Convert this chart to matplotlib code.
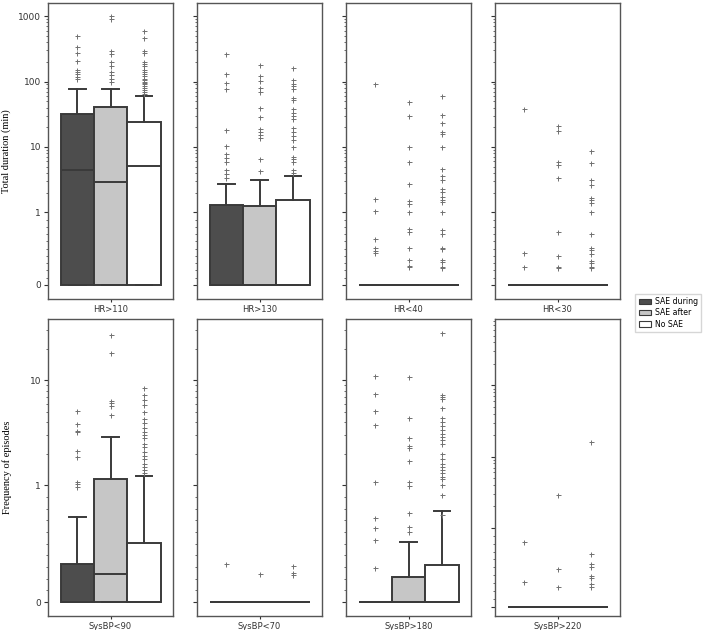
import numpy as np
import matplotlib.pyplot as plt
from matplotlib.patches import Patch

groups = ['SAE during', 'SAE after', 'No SAE']
colors = ['#4d4d4d', '#c6c6c6', '#ffffff']

# top row: total duration (min)
top_panels = ['HR>110', 'HR>130', 'HR<40', 'HR<30']
top_med = [[4.4, 2.95, 5.1], [0, 0, 0], [0, 0, 0], [0, 0, 0]]
top_q3 = [[31.6, 40.8, 24], [1.29, 1.25, 1.53], [0, 0, 0], [0, 0, 0]]
top_whishi = [[77.6, 77.6, 60], [2.68, 3.1, 3.63], [0, 0, 0], [0, 0, 0]]
top_fliers = [
    [[502, 337, 270, 208, 152, 141, 130, 116, 108],
     [1000, 900, 290, 260, 200, 170, 140, 125, 110, 100],
     [600, 470, 290, 270, 200, 185, 170, 150, 140, 130, 120, 110, 105, 100,
      95, 90, 85, 80, 75, 70, 65]],
    [[264, 130, 96, 76, 18, 10.5, 7.9, 6.8, 5.8, 4.5, 3.8, 3.4],
     [177, 123, 102, 79, 70, 39, 29, 19, 17, 15.2, 13.6, 6.5, 4.3],
     [160, 105, 93, 84, 76, 55, 52, 37.6, 33.4, 29.7, 26.3, 19.3, 17.1, 14.7,
      12.8, 10.1, 7.1, 6.5, 5.9, 4.4, 4.0]],
    [[90.6, 1.58, 1.04, 0.63, 0.505, 0.47, 0.44],
     [49, 29.5, 10.1, 5.9, 2.74, 1.49, 1.34, 1.0, 0.77, 0.73, 0.505, 0.34,
      0.26, 0.25],
     [60, 30.8, 22.8, 17.1, 15.6, 10.1, 4.55, 3.6, 3.13, 2.24, 2.07, 1.73,
      1.55, 1.44, 1.0, 0.757, 0.70, 0.505, 0.49, 0.34, 0.32, 0.25, 0.23]],
    [[37.6, 0.44, 0.25],
     [20.9, 17.5, 5.8, 5.2, 3.3, 0.73, 0.40, 0.25, 0.24],
     [8.7, 5.6, 3.13, 2.6, 1.67, 1.53, 1.38, 1.0, 0.70, 0.505, 0.48, 0.43,
      0.335, 0.307, 0.25, 0.24]],
]

# bottom row: frequency of episodes
bot_panels = ['SysBP<90', 'SysBP<70', 'SysBP>180', 'SysBP>220']
bot_med = [[0, 0.237, 0], [0, 0, 0], [0, 0, 0], [0, 0, 0]]
bot_q3 = [[0.326, 1.14, 0.503], [0, 0, 0], [0, 0.217, 0.317], [0, 0, 0]]
bot_whishi = [[0.726, 2.88, 1.23], [0, 0, 0], [0, 0.512, 0.78], [0, 0, 0]]
bot_fliers = [
    [[5.1, 3.86, 3.32, 3.2, 2.14, 1.85, 1.07, 1.03, 0.983],
     [27, 18.4, 6.4, 6.05, 5.7, 4.7],
     [8.4, 7.2, 6.5, 5.8, 5.0, 4.3, 3.9, 3.5, 3.2, 3.0, 2.8, 2.5, 2.3, 2.1,
      1.9, 1.8, 1.6, 1.5, 1.4, 1.3]],
    [[0.326], [0.237], [0.311, 0.25, 0.235]],
    [[11, 7.4, 5.1, 3.75, 1.07, 0.72, 0.632, 0.53, 0.294],
     [10.8, 4.35, 2.8, 2.37, 2.28, 1.72, 1.08, 0.995, 0.76, 0.645, 0.603],
     [28, 7.3, 7.0, 6.7, 5.4, 4.35, 4.0, 3.7, 3.4, 3.1, 2.9, 2.7, 2.5, 2.0,
      1.8, 1.6, 1.5, 1.4, 1.3, 1.2, 1.15, 1.0, 0.92, 0.75]],
    [[0.82, 0.321],
     [2.93, 0.478, 0.25],
     [16.2, 0.672, 0.545, 0.51, 0.393, 0.364, 0.29, 0.257]],
]

edge = '#3a3a3a'
minor = [0.1 * i for i in range(1, 10)] + [m * 10 ** k for k in range(0, 4) for m in range(2, 10)]

fig = plt.figure(figsize=(7.09, 6.30), dpi=100)
lefts = [48, 197, 346, 495]


def draw_panel(ax, name, med, q3, whishi, fliers):
    pos = [-0.8 / 3, 0, 0.8 / 3]
    stats = []
    for i in range(3):
        stats.append(dict(med=med[i], q1=0, q3=q3[i], whislo=0, whishi=whishi[i],
                          fliers=fliers[i]))
    bp = ax.bxp(stats, positions=pos, widths=0.8 / 3, patch_artist=True,
                boxprops=dict(edgecolor=edge, linewidth=1.4),
                medianprops=dict(color=edge, linewidth=1.4),
                whiskerprops=dict(color=edge, linewidth=1.4),
                capprops=dict(color=edge, linewidth=1.4),
                capwidths=0.4 / 3,
                flierprops=dict(marker='+', markersize=3.6, markeredgecolor='#707070',
                                markeredgewidth=0.7, linestyle='none'))
    for patch, c in zip(bp['boxes'], colors):
        patch.set_facecolor(c)
    ax.set_yscale('symlog', linthresh=1, linscale=1)
    ax.set_xlim(-0.5, 0.5)
    ax.set_xticks([0])
    ax.set_xticklabels([name])
    ax.set_yticks(minor, minor=True)
    ax.tick_params(axis='y', which='major', labelsize=6.5, colors='#333333',
                   length=3, width=0.8, pad=2)
    ax.tick_params(axis='x', which='major', labelsize=6, colors='#333333',
                   length=2.5, width=0.8, pad=1.5)
    ax.tick_params(axis='y', which='minor', length=1.8, width=0.6, colors='#555555')
    for s in ax.spines.values():
        s.set_color('#555555')
        s.set_linewidth(1.0)


for j in range(4):
    ax = fig.add_axes([lefts[j] / 709, 1 - 299 / 630, 125 / 709, 296 / 630])
    draw_panel(ax, top_panels[j], top_med[j], top_q3[j], top_whishi[j], top_fliers[j])
    ax.set_ylim(-0.193, 1586)
    ax.set_yticks([0, 1, 10, 100, 1000])
    if j == 0:
        ax.set_yticklabels(['0', '1', '10', '100', '1000'])
        ax.set_ylabel('Total duration (min)', family='Liberation Serif', fontsize=7.5,
                      labelpad=5)
    else:
        ax.set_yticklabels([])

for j in range(4):
    ax = fig.add_axes([lefts[j] / 709, 14 / 630, 125 / 709, 297 / 630])
    draw_panel(ax, bot_panels[j], bot_med[j], bot_q3[j], bot_whishi[j], bot_fliers[j])
    if j < 3:
        ax.set_ylim(-0.12, 38.4)
        ax.set_yticks([0, 1, 10])
    else:
        ax.set_ylim(-0.114, 853)
        ax.set_yticks([0, 1, 10, 100])
    if j == 0:
        ax.set_yticklabels(['0', '1', '10'])
        ax.set_ylabel('Frequency of episodes', family='Liberation Serif', fontsize=7.5,
                      labelpad=13)
    else:
        ax.set_yticklabels([])

handles = [Patch(facecolor=c, edgecolor=edge, linewidth=0.8) for c in colors]
fig.legend(handles, groups, loc='upper right', bbox_to_anchor=(705 / 709, 1 - 290 / 630),
           fontsize=5.6, frameon=True, edgecolor='#cccccc', fancybox=False,
           handlelength=1.6, handleheight=0.7, handletextpad=0.5,
           borderpad=0.4, labelspacing=0.3)

fig.savefig('out.png', dpi=100)
